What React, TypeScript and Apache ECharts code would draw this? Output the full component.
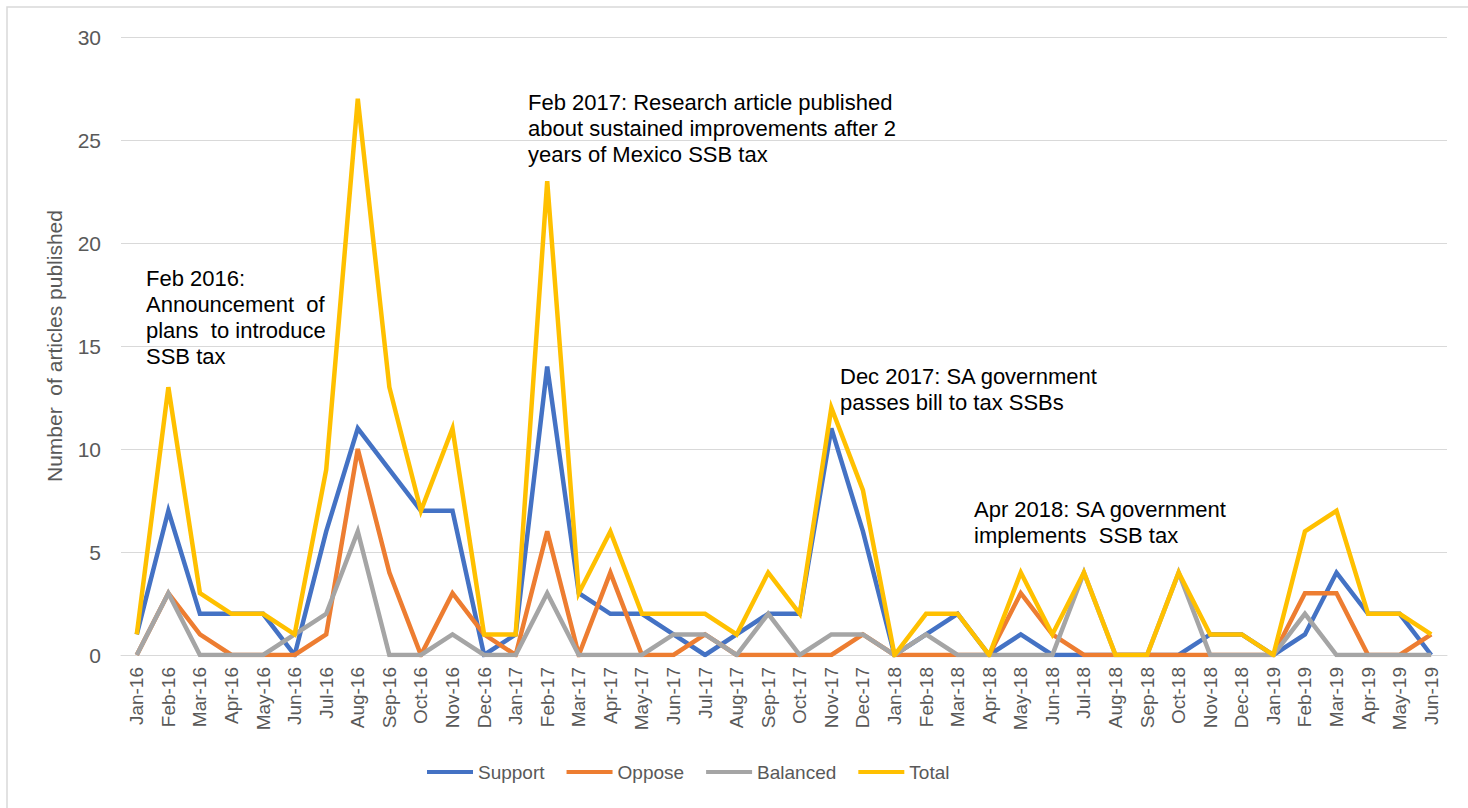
import React, { useEffect, useRef } from "react";
import * as echarts from "echarts";

const months = [
  "Jan-16", "Feb-16", "Mar-16", "Apr-16", "May-16", "Jun-16", "Jul-16", "Aug-16", "Sep-16", "Oct-16", "Nov-16", "Dec-16",
  "Jan-17", "Feb-17", "Mar-17", "Apr-17", "May-17", "Jun-17", "Jul-17", "Aug-17", "Sep-17", "Oct-17", "Nov-17", "Dec-17",
  "Jan-18", "Feb-18", "Mar-18", "Apr-18", "May-18", "Jun-18", "Jul-18", "Aug-18", "Sep-18", "Oct-18", "Nov-18", "Dec-18",
  "Jan-19", "Feb-19", "Mar-19", "Apr-19", "May-19", "Jun-19",
];

const support = [
  1, 7, 2, 2, 2, 0, 6, 11, 9, 7, 7, 0,
  1, 14, 3, 2, 2, 1, 0, 1, 2, 2, 11, 6,
  0, 1, 2, 0, 1, 0, 0, 0, 0, 0, 1, 1,
  0, 1, 4, 2, 2, 0,
];

const oppose = [
  0, 3, 1, 0, 0, 0, 1, 10, 4, 0, 3, 1,
  0, 6, 0, 4, 0, 0, 1, 0, 0, 0, 0, 1,
  0, 0, 0, 0, 3, 1, 0, 0, 0, 0, 0, 0,
  0, 3, 3, 0, 0, 1,
];

const balanced = [
  0, 3, 0, 0, 0, 1, 2, 6, 0, 0, 1, 0,
  0, 3, 0, 0, 0, 1, 1, 0, 2, 0, 1, 1,
  0, 1, 0, 0, 0, 0, 4, 0, 0, 4, 0, 0,
  0, 2, 0, 0, 0, 0,
];

const total = [
  1, 13, 3, 2, 2, 1, 9, 27, 13, 7, 11, 1,
  1, 23, 3, 6, 2, 2, 2, 1, 4, 2, 12, 8,
  0, 2, 2, 0, 4, 1, 4, 0, 0, 4, 1, 1,
  0, 6, 7, 2, 2, 1,
];

const seriesNames = ["Support", "Oppose", "Balanced", "Total"];
const seriesColors = ["#4472C4", "#ED7D31", "#A5A5A5", "#FFC000"];

const annotations = [
  { text: "Feb 2016:\nAnnouncement  of\nplans  to introduce\nSSB tax", x: 146, y: 265 },
  { text: "Feb 2017: Research article published\nabout sustained improvements after 2\nyears of Mexico SSB tax", x: 528, y: 89 },
  { text: "Dec 2017: SA government\npasses bill to tax SSBs", x: 840, y: 363 },
  { text: "Apr 2018: SA government\nimplements  SSB tax", x: 974, y: 496 },
];

const FONT = "'Liberation Sans', Arial, Helvetica, sans-serif";

export default function App() {
  const ref = useRef<HTMLDivElement>(null);

  useEffect(() => {
    if (!ref.current) return;
    const chart = echarts.init(ref.current, undefined, { renderer: "svg" });
    const dataSets = [support, oppose, balanced, total];

    chart.setOption({
      animation: false,
      backgroundColor: "#ffffff",
      textStyle: { fontFamily: FONT },
      grid: { left: 121, right: 21, top: 37, bottom: 153, containLabel: false },
      legend: {
        left: 422,
        top: 756,
        icon: "rect",
        itemWidth: 46,
        itemHeight: 4,
        itemGap: 22,
        textStyle: { fontFamily: FONT, fontSize: 19, color: "#595959", lineHeight: 22 },
        data: seriesNames,
      },
      xAxis: {
        type: "category",
        data: months,
        boundaryGap: true,
        axisLine: { show: true, lineStyle: { color: "#D9D9D9", width: 1 } },
        axisTick: { show: false },
        axisLabel: {
          rotate: 90,
          interval: 0,
          margin: 12,
          fontSize: 19,
          color: "#595959",
          fontFamily: FONT,
        },
        splitLine: { show: false },
      },
      yAxis: {
        type: "value",
        min: 0,
        max: 30,
        interval: 5,
        name: "Number  of articles published",
        nameLocation: "middle",
        nameRotate: 90,
        nameGap: 56,
        nameTextStyle: { fontSize: 21, color: "#595959", fontFamily: FONT },
        axisLine: { show: false },
        axisTick: { show: false },
        axisLabel: { margin: 20, fontSize: 21, color: "#595959", fontFamily: FONT },
        splitLine: { lineStyle: { color: "#D9D9D9", width: 1 } },
      },
      series: seriesNames.map((name, i) => ({
        name,
        type: "line",
        data: dataSets[i],
        symbol: "none",
        showSymbol: false,
        smooth: false,
        color: seriesColors[i],
        lineStyle: { color: seriesColors[i], width: 4.5, join: "miter", miterLimit: 10, cap: "butt" },
        emphasis: { disabled: true },
      })),
      graphic: [
        {
          type: "rect",
          silent: true,
          shape: { x: 7, y: 7, width: 1500, height: 900 },
          style: { fill: "none", stroke: "#D9D9D9", lineWidth: 1.5 },
          z: 100,
        },
        ...annotations.map((a) => ({
          type: "text",
          silent: true,
          x: a.x,
          y: a.y,
          z: 100,
          style: {
            text: a.text,
            fontSize: 22,
            fontFamily: FONT,
            fill: "#000000",
            lineHeight: 26,
            verticalAlign: "top",
            align: "left",
          },
        })),
      ],
    });

    return () => {
      chart.dispose();
    };
  }, []);

  return (
    <div
      ref={ref}
      style={{ position: "absolute", left: 0, top: 0, width: 1468, height: 808, background: "#ffffff" }}
    />
  );
}
